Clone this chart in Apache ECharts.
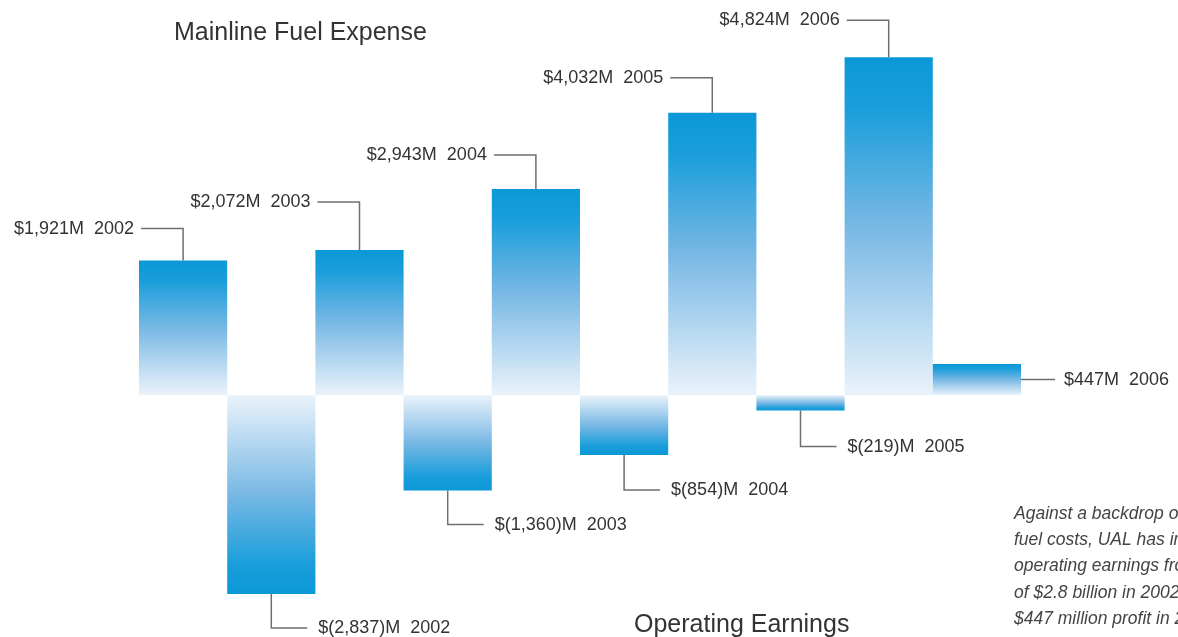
<!DOCTYPE html>
<html>
<head>
<meta charset="utf-8">
<title>Mainline Fuel Expense / Operating Earnings</title>
<script src="https://cdn.jsdelivr.net/npm/echarts@6/dist/echarts.min.js"></script>
<style>
  html, body { margin: 0; padding: 0; background: #fff; }
  #chart { width: 1178px; height: 637px; }
</style>
</head>
<body>
<div id="chart"></div>
<script>
//--------------------- Data ---------------------------//
const years = ['2002', '2003', '2004', '2005', '2006'];
const fuelExpense = [1921, 2072, 2943, 4032, 4824];        // $M
const operatingEarnings = [-2837, -1360, -854, -219, 447]; // $M

// leader line length (px) for each label, fuel then earnings
const fuelLeader = [32, 48, 34, 35, 37];
const earningsLeader = [34, 34, 35, 36, 0];

const noteLines = [
  'Against a backdrop of record',
  'fuel costs, UAL has improved',
  'operating earnings from a loss',
  'of $2.8 billion in 2002 to a',
  '$447 million profit in 2006.'
];

//--------------------- Build series ---------------------------//
const categories = [];
const values = [];
const labels = [];
const leaders = [];
years.forEach((y, i) => {
  categories.push('Fuel ' + y, 'Earnings ' + y);
  values.push(fuelExpense[i], operatingEarnings[i]);
  labels.push(money(fuelExpense[i]) + '  ' + y, money(operatingEarnings[i]) + '  ' + y);
  leaders.push(fuelLeader[i], earningsLeader[i]);
});

function money(v) {
  const s = Math.abs(v).toLocaleString('en-US');
  return v < 0 ? '$(' + s + ')M' : '$' + s + 'M';
}

const DARK = '#0b98d7';
function barGradient(v) {
  const stops = [
    { offset: 0, color: DARK },
    { offset: 0.15, color: '#1a9edb' },
    { offset: 0.5, color: '#78b8e4' },
    { offset: 1, color: '#eaf3fb' }
  ];
  if (v < 0) {
    stops.forEach(s => s.offset = 1 - s.offset);
    stops.reverse();
  }
  return new echarts.graphic.LinearGradient(0, 0, 0, 1, stops);
}

const LABEL_FONT = 'Liberation Sans, Arial, sans-serif';

// leader lines + labels drawn through the axes
function renderLeader(params, api) {
  const i = api.value(0);
  const v = api.value(1);
  const end = api.coord([i, v]);
  const zero = api.coord([i, 0]);
  const half = api.size([1, 0])[0] / 2;
  const len = leaders[i];
  let points, tx, ty, align;
  if (i % 2 === 0) {
    // fuel: up then left
    ty = end[1] - len;
    points = [[end[0], end[1]], [end[0], ty], [end[0] - 42, ty]];
    tx = end[0] - 49;
    align = 'right';
  } else if (v < 0) {
    // earnings loss: down then right
    ty = end[1] + len;
    points = [[end[0], end[1]], [end[0], ty], [end[0] + 36, ty]];
    tx = end[0] + 47;
    align = 'left';
  } else {
    // earnings profit: straight out to the right
    ty = (end[1] + zero[1]) / 2;
    points = [[end[0] + half, ty], [end[0] + half + 34, ty]];
    tx = end[0] + half + 43;
    align = 'left';
  }
  return {
    type: 'group',
    children: [
      {
        type: 'polyline',
        shape: { points: points },
        style: { stroke: '#6f6f6f', lineWidth: 1.5, fill: null }
      },
      {
        type: 'text',
        style: {
          text: labels[i],
          x: tx,
          y: ty,
          align: align,
          verticalAlign: 'middle',
          fontSize: 18,
          fontFamily: LABEL_FONT,
          fill: '#333'
        }
      }
    ]
  };
}

//--------------------- Chart ---------------------------//
const chart = echarts.init(document.getElementById('chart'));

const option = {
  animation: false,
  grid: { left: 139, right: 157, top: 0, bottom: 0 },
  xAxis: {
    type: 'category',
    data: categories,
    show: false
  },
  yAxis: {
    type: 'value',
    min: -3450,
    max: 5640,
    show: false
  },
  series: [
    {
      type: 'bar',
      barCategoryGap: 0,
      data: values.map(v => ({ value: v, itemStyle: { color: barGradient(v) } }))
    },
    {
      type: 'custom',
      renderItem: renderLeader,
      encode: { x: 0, y: 1 },
      silent: true,
      z: 5,
      data: values.map((v, i) => [i, v])
    }
  ],
  graphic: [
    {
      type: 'text',
      x: 174,
      y: 33,
      style: {
        text: 'Mainline Fuel Expense',
        fontSize: 25,
        fontFamily: LABEL_FONT,
        fill: '#333',
        verticalAlign: 'middle'
      }
    },
    {
      type: 'text',
      x: 634,
      y: 625,
      style: {
        text: 'Operating Earnings',
        fontSize: 25,
        fontFamily: LABEL_FONT,
        fill: '#333',
        verticalAlign: 'middle'
      }
    },
    {
      type: 'text',
      x: 1014,
      y: 501,
      style: {
        text: noteLines.join('\n'),
        fontSize: 17.5,
        fontStyle: 'italic',
        fontFamily: LABEL_FONT,
        lineHeight: 26.2,
        fill: '#444',
        verticalAlign: 'top'
      }
    }
  ]
};

option && chart.setOption(option);
</script>
</body>
</html>
